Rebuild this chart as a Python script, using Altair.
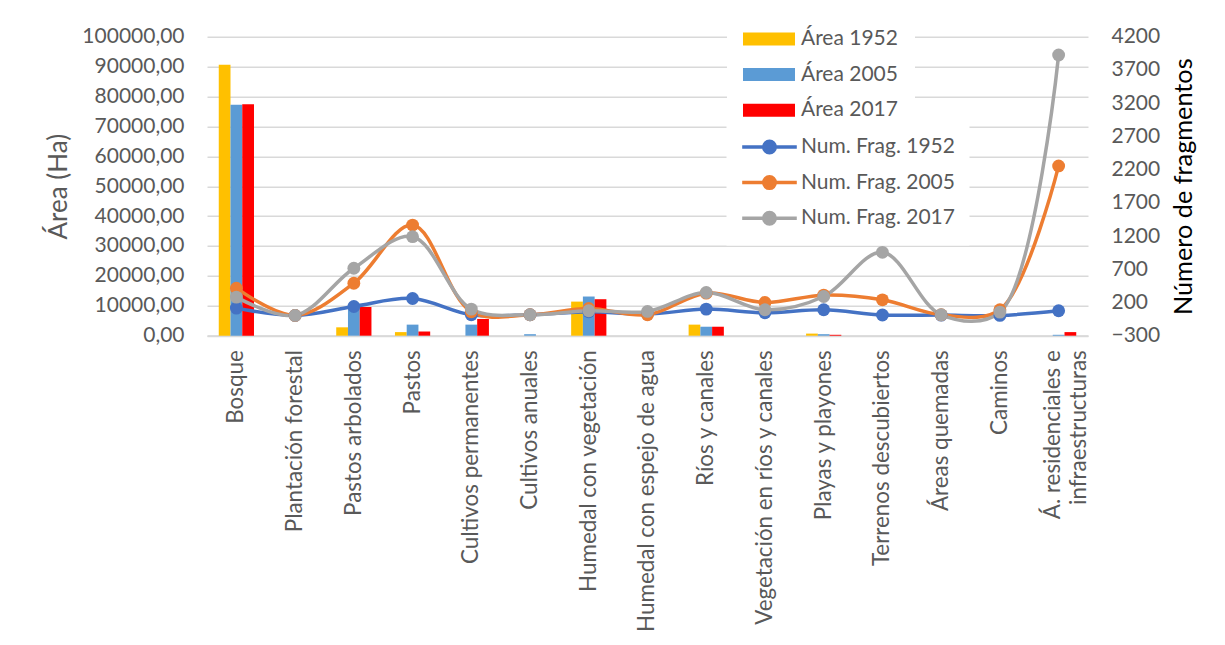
import altair as alt
import pandas as pd

categorias = [
    "Bosque", "Plantación forestal", "Pastos arbolados", "Pastos",
    "Cultivos permanentes", "Cultivos anuales", "Humedal con vegetación",
    "Humedal con espejo de agua", "Ríos y canales", "Vegetación en ríos y canales",
    "Playas y playones", "Terrenos descubiertos", "Áreas quemadas", "Caminos",
    "Á. residenciales e infraestructuras",
]

series_area = ["Área 1952", "Área 2005", "Área 2017"]
area_1952 = [90600, 0, 2800, 1200, 0, 0, 11400, 0, 3700, 0, 700, 0, 0, 0, 0]
area_2005 = [77200, 0, 10200, 3700, 3700, 500, 13100, 0, 3000, 0, 500, 0, 0, 0, 300]
area_2017 = [77400, 0, 9600, 1400, 5600, 0, 12200, 0, 3000, 0, 300, 0, 0, 0, 1200]

series_frag = ["Num. Frag. 1952", "Num. Frag. 2005", "Num. Frag. 2017"]
frag_1952 = [115, 5, 140, 260, 15, 15, 60, 25, 100, 45, 90, 12, 10, 5, 75]
frag_2005 = [415, 5, 490, 1365, 60, 15, 110, 15, 340, 200, 310, 240, 15, 90, 2255]
frag_2017 = [280, 5, 715, 1190, 100, 15, 75, 65, 350, 90, 290, 955, 15, 55, 3925]

colores_area = ["#FFC000", "#5B9BD5", "#FF0000"]
colores_frag = ["#4472C4", "#ED7D31", "#A5A5A5"]

ticks_area = [0, 10000, 20000, 30000, 40000, 50000, 60000, 70000, 80000, 90000, 100000]
ticks_frag = [-300, 200, 700, 1200, 1700, 2200, 2700, 3200, 3700, 4200]

bar_df = pd.DataFrame([
    {"Categoria": c, "Serie": s, "Area": v}
    for s, vals in zip(series_area, [area_1952, area_2005, area_2017])
    for c, v in zip(categorias, vals)
])
line_df = pd.DataFrame([
    {"Categoria": c, "Serie": s, "Frag": v}
    for s, vals in zip(series_frag, [frag_1952, frag_2005, frag_2017])
    for c, v in zip(categorias, vals)
])

FONT = "Lato"
LBL = 21
XLBL = 22.4
GRAY = "#595959"

x_enc = alt.X(
    "Categoria:N", sort=categorias, title=None,
    scale=alt.Scale(paddingInner=0.4, paddingOuter=0.2),
    axis=alt.Axis(
        labelAngle=270, labelAlign="right", labelBaseline="middle",
        labelPadding=14, labelFontSize=XLBL, labelColor=GRAY, labelFont=FONT,
        labelLimit=1000, labelOverlap=False, labelLineHeight=26,
        labelOffset={"condition": {"test": "datum.value == 'Á. residenciales e infraestructuras'", "value": -6}, "value": 0},
        ticks=False, grid=False, domainColor="#D9D9D9", domainWidth=2,
        labelExpr="datum.value == 'Á. residenciales e infraestructuras' ? ['Á. residenciales e', 'infraestructuras'] : datum.label",
    ),
)

bars = alt.Chart(bar_df).mark_bar().encode(
    x=x_enc,
    xOffset=alt.XOffset("Serie:N", sort=series_area, scale=alt.Scale(paddingInner=0, paddingOuter=0)),
    y=alt.Y(
        "Area:Q",
        scale=alt.Scale(domain=[0, 100000], nice=False, zero=False),
        axis=alt.Axis(
            values=ticks_area, title="Área (Ha)", titleFontSize=26, titleColor=GRAY,
            titleFont=FONT, titleFontWeight="normal", titlePadding=10,
            labelExpr="replace(format(datum.value, '.2f'), '.', ',')",
            labelFontSize=LBL, labelColor=GRAY, labelFont=FONT, labelPadding=23,
            ticks=False, domain=False, grid=True, gridColor="#D9D9D9", gridWidth=1.5,
        ),
    ),
    color=alt.Color(
        "Serie:N", sort=series_area,
        scale=alt.Scale(domain=series_area, range=colores_area),
        legend=alt.Legend(
            orient="none", legendX=520, legendY=-24.2, title=None,
            symbolType="M-4,-1H4V1H-4Z", symbolSize=169, symbolStrokeWidth=0,
            symbolOffset=15.5, labelOffset=21.5, rowPadding=13.6,
            labelFontSize=LBL, labelColor=GRAY, labelFont=FONT, labelLimit=400,
            labelExpr="datum.label + '               '",
            fillColor="white", padding=16,
        ),
    ),
)

lines = alt.Chart(line_df).mark_line(
    interpolate="catmull-rom", strokeWidth=3.5,
    point=alt.OverlayMarkDef(filled=True, size=165, opacity=1),
).encode(
    x=x_enc,
    y=alt.Y(
        "Frag:Q",
        scale=alt.Scale(domain=[-300, 4200], nice=False, zero=False),
        axis=alt.Axis(
            orient="right", values=ticks_frag, format="d",
            title="Número de fragmentos", titleFontSize=25.3, titleColor="#000000",
            titleFont=FONT, titleFontWeight="normal", titleAngle=270,
            titleBaseline="top", titlePadding=12,
            labelFontSize=LBL, labelColor=GRAY, labelFont=FONT, labelPadding=23,
            ticks=False, domain=False, grid=False,
        ),
    ),
    color=alt.Color(
        "Serie:N", sort=series_frag,
        scale=alt.Scale(domain=series_frag, range=colores_frag),
        legend=alt.Legend(
            orient="none", legendX=519.5, legendY=85.8, title=None,
            symbolType="M-3.9,0H3.9M-0.82,0A0.82,0.82,0,1,1,0.82,0A0.82,0.82,0,1,1,-0.82,0Z",
            symbolSize=196, symbolStrokeWidth=3.5,
            symbolOffset=18.5, labelOffset=21, rowPadding=8.6,
            labelFontSize=LBL, labelColor=GRAY, labelFont=FONT, labelLimit=400,
            fillColor="white", padding=14,
        ),
    ),
)

chart = alt.layer(bars, lines).resolve_scale(
    y="independent", color="independent"
).properties(
    width=881, height=299,
    padding={"left": 199, "top": 28.7, "right": 129, "bottom": 298},
    autosize=alt.AutoSizeParams(type="none"),
).configure(font=FONT).configure_view(stroke=None)

chart.save("out.html", embed_options={"renderer": "svg", "actions": False})
